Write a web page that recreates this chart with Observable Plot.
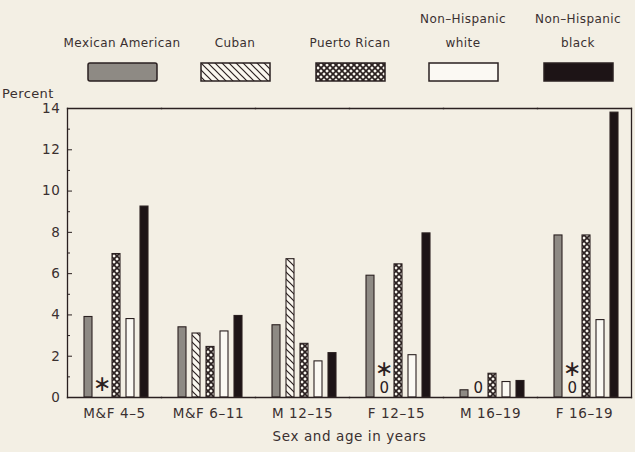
<!DOCTYPE html>
<html><head><meta charset="utf-8">
<script src="https://cdn.jsdelivr.net/npm/d3@7"></script>
<script src="https://cdn.jsdelivr.net/npm/@observablehq/plot@0.6"></script>
<style>
body{margin:0;background:#f3efe4;font-family:"DejaVu Sans",sans-serif;color:#3a3030;}
#wrap{position:relative;width:635px;height:452px;overflow:hidden}
#legend{position:relative;width:635px;height:100px}
.lab{position:absolute;transform:translate(-50%,-50%);font-size:12px;white-space:nowrap;letter-spacing:0.4px}
.sw{position:absolute;display:block}
</style></head><body>
<svg width="0" height="0" style="position:absolute"><defs>
  <pattern id="pCuban" patternUnits="userSpaceOnUse" width="7" height="7">
    <rect width="7" height="7" fill="#faf7ef"/>
    <path d="M-1,-1L8,8M-1,6L1,8M6,-1L8,1" stroke="#2a2020" stroke-width="1.2"/>
  </pattern>
  <pattern id="pPR" patternUnits="userSpaceOnUse" width="6" height="6">
    <rect width="6" height="6" fill="#faf7ef"/>
    <path d="M-1,-1L7,7M7,-1L-1,7" stroke="#2a2020" stroke-width="1.7"/>
  </pattern>
</defs></svg>
<div id="wrap"><div id="legend"></div><div id="chart"></div></div>
<script>
// ---- data ----
const groups = ["M&F 4–5", "M&F 6–11", "M 12–15", "F 12–15", "M 16–19", "F 16–19"];
const series = ["Mexican American", "Cuban", "Puerto Rican", "Non–Hispanic white", "Non–Hispanic black"];
const legendTop = ["", "", "", "Non–Hispanic", "Non–Hispanic"];
const legendBottom = ["Mexican American", "Cuban", "Puerto Rican", "white", "black"];
const mexicanAmerican = [3.9, 3.4, 3.5, 5.9, 0.35, 7.85];
const cuban = [null, 3.1, 6.7, 0, 0, 0];
const puertoRican = [6.95, 2.45, 2.6, 6.45, 1.15, 7.85];
const nonHispanicWhite = [3.8, 3.2, 1.75, 2.05, 0.75, 3.75];
const nonHispanicBlack = [9.25, 3.95, 2.15, 7.95, 0.8, 13.8];
const cubanFlag = ["∗", "", "", "∗", "", "∗"];
const yTicks = [0, 2, 4, 6, 8, 10, 12, 14];
const yMinorTicks = [1, 3, 5, 7, 9, 11, 13];

// ---- styling ----
const ink = "#2a2020";
const fills = ["#8e8a84", "url(#pCuban)", "url(#pPR)", "#fbf9f3", "#1d1416"];
const legendX = [122, 235, 350, 463, 578];

// ---- legend ----
const legend = document.getElementById("legend");
series.forEach((s, i) => {
  if (legendTop[i]) {
    const t = document.createElement("div");
    t.className = "lab"; t.textContent = legendTop[i];
    t.style.left = legendX[i] + "px"; t.style.top = "19px";
    legend.appendChild(t);
  }
  const b = document.createElement("div");
  b.className = "lab"; b.textContent = legendBottom[i];
  b.style.left = legendX[i] + "px"; b.style.top = "43px";
  legend.appendChild(b);
  const ns = "http://www.w3.org/2000/svg";
  const sv = document.createElementNS(ns, "svg");
  sv.setAttribute("width", 71); sv.setAttribute("height", 20);
  sv.setAttribute("class", "sw");
  sv.style.left = (legendX[i] - 35) + "px"; sv.style.top = "62px";
  const r = document.createElementNS(ns, "rect");
  r.setAttribute("x", 1); r.setAttribute("y", 1); r.setAttribute("width", 69); r.setAttribute("height", 18);
  r.setAttribute("rx", i === 0 ? 2 : 0);
  r.setAttribute("fill", fills[i]); r.setAttribute("stroke", ink); r.setAttribute("stroke-width", 1.5);
  sv.appendChild(r);
  legend.appendChild(sv);
});
const pl = document.createElement("div");
pl.className = "lab"; pl.textContent = "Percent";
pl.style.transform = "translate(0,-50%)"; pl.style.fontSize = "13px";
pl.style.left = "2px"; pl.style.top = "93px";
legend.appendChild(pl);

// ---- table ----
const columns = [mexicanAmerican, cuban, puertoRican, nonHispanicWhite, nonHispanicBlack];
const rows = [];
series.forEach((s, i) => columns[i].forEach((v, j) => {
  if (v != null) rows.push({group: groups[j], series: s, value: v});
}));
const bars = rows.filter(d => d.value > 0);
const zeros = rows.filter(d => d.value === 0);
const notes = groups.map((g, j) => ({group: g, series: series[1], flag: cubanFlag[j], zero: cuban[j] === 0}))
  .filter(d => d.flag);

const chart = Plot.plot({
  width: 635, height: 352,
  marginTop: 8, marginBottom: 55, marginLeft: 64, marginRight: 2,
  style: {background: "transparent", fontFamily: "DejaVu Sans", fontSize: "13px", color: "#3a3030", letterSpacing: "0.6px"},
  fx: {domain: groups, padding: 0, label: null},
  x: {domain: series, paddingInner: 0.4, paddingOuter: 0.85, align: 0.58, axis: null},
  y: {domain: [0, 14]},
  color: {domain: series, range: fills},
  marks: [
    Plot.barY(bars, {fx: "group", x: "series", y: "value", fill: "series", stroke: ink, strokeWidth: 1.1}),
    Plot.text(zeros, {fx: "group", x: "series", y: 0, text: () => "0", dy: -9, fontSize: 15, fill: ink}),
    Plot.text(notes.filter(d => d.zero), {fx: "group", x: "series", y: 0, text: "flag", dy: -29, fontSize: 22, fill: ink}),
    Plot.text(notes.filter(d => !d.zero), {fx: "group", x: "series", y: 0, text: "flag", dy: -14, fontSize: 22, fill: ink}),
    Plot.frame({anchor: "top", stroke: ink, strokeWidth: 1.3}),
    Plot.frame({anchor: "bottom", stroke: ink, strokeWidth: 1.3}),
    Plot.frame({anchor: "left", facetAnchor: "left", stroke: ink, strokeWidth: 1.3}),
    Plot.frame({anchor: "right", facetAnchor: "right", stroke: ink, strokeWidth: 1.3}),
    Plot.axisY({ticks: yTicks, tickSize: -5, tickFormat: () => "", label: null, stroke: ink}),
    Plot.axisY({ticks: yMinorTicks, tickSize: -3, tickFormat: () => "", label: null, stroke: ink}),
    Plot.axisY({ticks: yTicks, tickSize: 0, tickPadding: 7, fontSize: 13.5, label: null}),
    Plot.axisFx({anchor: "bottom", tickSize: 0, tickPadding: 11, fontSize: 13.5,
      label: "Sex and age in years", labelAnchor: "center", labelOffset: 43})
  ]
});
document.getElementById("chart").appendChild(chart);
</script>
</body></html>
